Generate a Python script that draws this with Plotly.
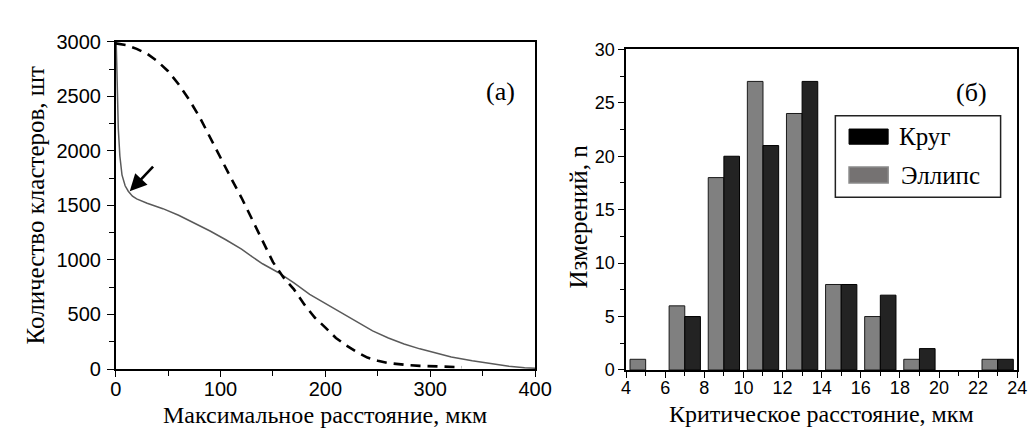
import plotly.graph_objects as go

# ---------------- data ----------------
# panel (a)
solid_x = [0, 0.5, 1, 1.5, 2.5, 4, 6, 9, 12, 16, 20, 30, 45, 60, 75, 90, 105, 120, 130, 140,
           155, 170, 185, 200, 215, 230, 245, 260, 275, 290, 305, 320, 340, 360, 375, 390, 400]
solid_y = [3000, 2990, 2800, 2500, 2200, 1950, 1780, 1680, 1630, 1585, 1560, 1520, 1470, 1410,
           1340, 1265, 1185, 1100, 1030, 965, 885, 790, 685, 600, 515, 430, 350, 285, 230, 185,
           145, 110, 75, 45, 25, 12, 8]
dash_x = [0, 10, 20, 30, 40, 50, 60, 70, 80, 90, 100, 110, 120, 130, 140, 150, 160, 170, 180,
          190, 200, 210, 220, 230, 240, 250, 260, 270, 280, 290, 300, 315, 330]
dash_y = [2985, 2970, 2935, 2890, 2820, 2730, 2610, 2470, 2310, 2120, 1930, 1750, 1570, 1370,
          1170, 980, 840, 730, 590, 470, 380, 285, 215, 155, 105, 75, 55, 42, 35, 29, 25, 20, 17]
arrow_head = (13.4, 1630)
arrow_tail = (37, 1870)

# panel (b)
bins = [5, 7, 9, 11, 13, 15, 17, 19, 21, 23]
ellipse = [1, 6, 18, 27, 24, 8, 5, 1, 0, 1]
circle = [0, 5, 20, 21, 27, 8, 7, 2, 0, 1]

x_title_a = "Максимальное расстояние, мкм"
y_title_a = "Количество кластеров, шт"
x_title_b = "Критическое расстояние, мкм"
y_title_b = "Измерений, n"
legend_names = ["Круг", "Эллипс"]

# ---------------- figure ----------------
W, H = 1036, 428
SERIF = "Liberation Serif"
SANS = "Liberation Sans"

def px(x):
    return x / W

def py(y):
    return 1 - y / H

fig = go.Figure()

fig.add_trace(go.Scatter(x=solid_x, y=solid_y, mode="lines",
                         line=dict(color="#5a5a5a", width=1.5),
                         xaxis="x", yaxis="y", showlegend=False))
fig.add_trace(go.Scatter(x=dash_x, y=dash_y, mode="lines",
                         line=dict(color="black", width=2.6, dash="10px,7px"),
                         xaxis="x", yaxis="y", showlegend=False))

fig.add_trace(go.Bar(x=bins, y=ellipse, offset=-0.8, width=0.8, name=legend_names[1],
                     marker=dict(color="#808080",
                                 line=dict(color="#1a1a1a", width=[1 if v else 0 for v in ellipse])),
                     xaxis="x2", yaxis="y2", showlegend=False))
fig.add_trace(go.Bar(x=bins, y=circle, offset=0, width=0.8, name=legend_names[0],
                     marker=dict(color="#232323",
                                 line=dict(color="#000000", width=[1 if v else 0 for v in circle])),
                     xaxis="x2", yaxis="y2", showlegend=False))

axis_common = dict(showline=True, linecolor="black", linewidth=1.5, mirror=True,
                   ticks="outside", tickcolor="black", tickwidth=1.3,
                   showgrid=False, zeroline=False)

fig.update_layout(
    width=W, height=H,
    margin=dict(l=0, r=0, t=0, b=0),
    paper_bgcolor="white", plot_bgcolor="white",
    barmode="overlay",
    xaxis=dict(domain=[px(104), px(533)], range=[0, 400], dtick=100, anchor="y",
               ticklen=6, ticklabelstandoff=-5,
               tickfont=dict(family=SANS, size=20, color="black"),
               minor=dict(dtick=50, ticks="outside", ticklen=5, tickcolor="black", tickwidth=1.2),
               **axis_common),
    yaxis=dict(domain=[py(369), py(24)], range=[0, 3000], dtick=500, anchor="x",
               ticklen=7, ticklabelstandoff=2,
               tickfont=dict(family=SANS, size=20, color="black"),
               minor=dict(dtick=250, ticks="outside", ticklen=5, tickcolor="black", tickwidth=1.2),
               **axis_common),
    xaxis2=dict(domain=[px(626), px(1026)], range=[4, 24], dtick=2, anchor="y2",
                ticklen=6, ticklabelstandoff=-5,
                tickfont=dict(family=SANS, size=18, color="black"),
                minor=dict(dtick=1, ticks="outside", ticklen=4, tickcolor="black", tickwidth=1.2),
                **axis_common),
    yaxis2=dict(domain=[py(370), py(32)], range=[0, 30], dtick=5, anchor="x2",
                ticklen=6,
                tickfont=dict(family=SANS, size=18, color="black"),
                minor=dict(dtick=2.5, ticks="outside", ticklen=4, tickcolor="black", tickwidth=1.2),
                **axis_common),
)

ann = []
# axis titles
ann.append(dict(text=y_title_a, x=px(22), y=py(196), xref="paper", yref="paper",
                textangle=-90, showarrow=False, font=dict(family=SERIF, size=25, color="black"),
                xanchor="center", yanchor="middle"))
ann.append(dict(text=x_title_a, x=px(318), y=py(417), xref="paper", yref="paper",
                showarrow=False, font=dict(family=SERIF, size=24, color="black"),
                xanchor="center", yanchor="middle"))
ann.append(dict(text=y_title_b, x=px(577), y=py(208), xref="paper", yref="paper",
                textangle=-90, showarrow=False, font=dict(family=SERIF, size=25, color="black"),
                xanchor="center", yanchor="middle"))
ann.append(dict(text=x_title_b, x=px(826), y=py(416), xref="paper", yref="paper",
                showarrow=False, font=dict(family=SERIF, size=24, color="black"),
                xanchor="center", yanchor="middle"))
# panel labels
ann.append(dict(text="(а)", x=px(498), y=py(59), xref="paper", yref="paper",
                showarrow=False, font=dict(family=SERIF, size=26, color="black")))
ann.append(dict(text="(б)", x=px(997), y=py(60), xref="paper", yref="paper",
                showarrow=False, font=dict(family=SERIF, size=26, color="black")))
# arrow
ann.append(dict(x=arrow_head[0], y=arrow_head[1], ax=arrow_tail[0], ay=arrow_tail[1],
                xref="x", yref="y", axref="x", ayref="y", text="", showarrow=True,
                arrowhead=2, arrowsize=1.3, arrowwidth=2.6, arrowcolor="black", standoff=0))
# legend text
ann.append(dict(text=legend_names[0], x=px(903), y=py(124), xref="paper", yref="paper",
                showarrow=False, xanchor="left", yanchor="middle",
                font=dict(family=SERIF, size=25, color="black")))
ann.append(dict(text=legend_names[1], x=px(905), y=py(165), xref="paper", yref="paper",
                showarrow=False, xanchor="left", yanchor="middle",
                font=dict(family=SERIF, size=25, color="black")))
fig.update_layout(annotations=ann)

shapes = [
    dict(type="rect", xref="paper", yref="paper", x0=px(840), x1=px(1009), y0=py(188), y1=py(102),
         line=dict(color="#222222", width=1.5), fillcolor="white"),
    dict(type="rect", xref="paper", yref="paper", x0=px(854), x1=px(894), y0=py(132), y1=py(116),
         line=dict(color="black", width=1), fillcolor="black"),
    dict(type="rect", xref="paper", yref="paper", x0=px(854), x1=px(894), y0=py(173), y1=py(156),
         line=dict(color="#8a8a8a", width=1.5), fillcolor="#757272"),
]
fig.update_layout(shapes=shapes)

fig.write_html("out.html")
